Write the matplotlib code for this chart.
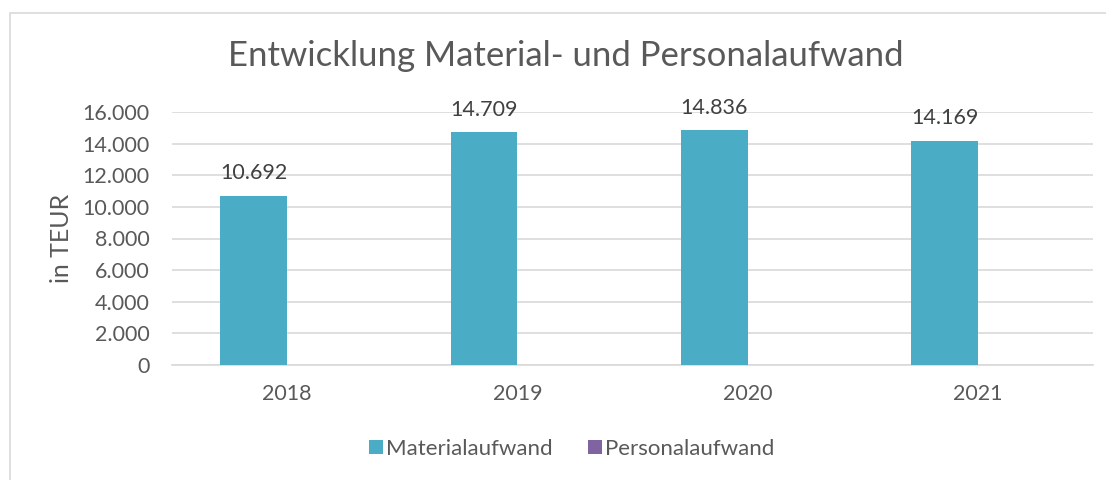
import matplotlib.pyplot as plt
import numpy as np
from matplotlib.patches import Rectangle
from matplotlib.ticker import FuncFormatter

years = ["2018", "2019", "2020", "2021"]
materialaufwand = [10692, 14709, 14836, 14169]
personalaufwand = [0, 0, 0, 0]

TEXT = "#595959"
GRID = "#D9D9D9"
TEAL = "#4BACC6"
PURPLE = "#8064A2"

plt.rcParams["font.family"] = ["Lato", "DejaVu Sans"]


def de_format(value, _pos=None):
    return f"{value:,.0f}".replace(",", ".")


fig = plt.figure(figsize=(11.06, 4.8), dpi=100)
ax = fig.add_axes([172 / 1106, 1 - 365 / 480, (1093 - 172) / 1106, (365 - 112) / 480])

x = np.arange(len(years))
width = 0.29
bars = ax.bar(x - width / 2, materialaufwand, width, color=TEAL, label="Materialaufwand", zorder=3)
ax.bar(x + width / 2, personalaufwand, width, color=PURPLE, label="Personalaufwand", zorder=3)

for bar, value in zip(bars, materialaufwand):
    ax.annotate(
        de_format(value),
        (bar.get_x() + bar.get_width() / 2, value),
        xytext=(0, 9),
        textcoords="offset points",
        ha="center",
        va="bottom",
        fontsize=15.5,
        color="#404040",
    )

ax.set_xlim(-0.5, len(years) - 0.5)
ax.set_ylim(0, 16000)
ax.set_yticks(np.arange(0, 16001, 2000))
ax.yaxis.set_major_formatter(FuncFormatter(de_format))
ax.set_xticks(x)
ax.set_xticklabels(years)
ax.grid(axis="y", color=GRID, linewidth=1.2, zorder=0)
ax.tick_params(length=0, labelsize=15.5, colors=TEXT)
ax.tick_params(axis="y", pad=16)
ax.tick_params(axis="x", pad=14)
for side in ("top", "right", "left"):
    ax.spines[side].set_visible(False)
ax.spines["bottom"].set_color(GRID)
ax.spines["bottom"].set_linewidth(1.2)

ax.set_ylabel("in TEUR", fontsize=18, color=TEXT, labelpad=7)

fig.text(0.512, 1 - 56 / 480, "Entwicklung Material- und Personalaufwand",
         ha="center", va="center", fontsize=25, color=TEXT)

fig.legend(
    loc="center",
    bbox_to_anchor=(0.517, 1 - 449 / 480),
    ncol=2,
    frameon=False,
    fontsize=16,
    labelcolor=TEXT,
    handlelength=0.6,
    handleheight=0.6,
    handletextpad=0.15,
    columnspacing=1.6,
)

fig.patches.append(
    Rectangle((10 / 1106, -0.1), 1.2, 1 - 13 / 480 + 0.1, transform=fig.transFigure,
              fill=False, edgecolor=GRID, linewidth=1.2, clip_on=False)
)

fig.savefig("out.png", dpi=100)
